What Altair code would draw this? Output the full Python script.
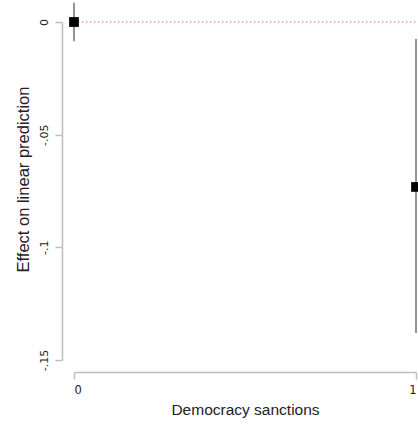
import altair as alt
import pandas as pd

# Marginal effect estimates with 95% confidence bounds
levels = [0, 1]
estimate = [0.0, -0.0732]
ci_low = [-0.0085, -0.138]
ci_high = [0.0085, -0.0075]

y_ticks = [0, -0.05, -0.1, -0.15]

df = pd.DataFrame({"level": levels, "est": estimate, "lo": ci_low, "hi": ci_high})
ref = pd.DataFrame({"y": [0.0]})

W, H = 342, 338

x_scale = alt.Scale(domain=[0, 1], nice=False, zero=False)
y_scale = alt.Scale(domain=[-0.15, 0], nice=False, zero=False)

x_axis = alt.Axis(
    values=levels, title="Democracy sanctions", grid=False, offset=12, format="d",
    domainColor="#bdbdbd", domainWidth=1.5, tickColor="#bdbdbd", tickWidth=1.5,
    tickSize=7, labelFont="DejaVu Sans", labelFontSize=11.5, labelColor="#222",
    labelPadding=5, titleFont="Liberation Sans", titleFontSize=15.5,
    titleFontWeight="normal", titleColor="#222", titlePadding=7,
)
y_axis = alt.Axis(
    values=y_ticks, title="Effect on linear prediction", grid=False, offset=12,
    domainColor="#bdbdbd", domainWidth=1.5, tickColor="#bdbdbd", tickWidth=1.5,
    tickSize=7, labelAngle=270, labelAlign="center", labelBaseline="bottom",
    labelExpr="datum.value == 0 ? '0' : replace(toString(datum.value), '0.', '.')",
    labelFont="DejaVu Sans", labelFontSize=11, labelColor="#222", labelPadding=6,
    titleFont="Liberation Sans", titleFontSize=16.5, titleFontWeight="normal",
    titleColor="#222", titlePadding=7, titleY=157,
)

refline = alt.Chart(ref).mark_rule(
    color="#f4a09a", strokeDash=[1.5, 2.5], strokeWidth=1.5
).encode(
    y=alt.Y("y:Q", scale=y_scale, axis=y_axis),
    x=alt.value(0),
    x2=alt.value(W + 5),
)

bars = alt.Chart(df).mark_rule(color="#7a7a7a", strokeWidth=1.6).encode(
    x=alt.X("level:Q", scale=x_scale, axis=x_axis),
    y=alt.Y("lo:Q", scale=y_scale, axis=y_axis),
    y2="hi:Q",
)

points = alt.Chart(df).mark_point(
    shape="square", filled=True, color="black", size=95, opacity=1
).encode(
    x=alt.X("level:Q", scale=x_scale, axis=x_axis),
    y=alt.Y("est:Q", scale=y_scale, axis=y_axis),
)

chart = alt.layer(refline, bars, points).properties(
    width=W,
    height=H,
    autosize=alt.AutoSizeParams(type="none"),
    padding={"left": 74, "top": 22, "right": 2, "bottom": 64},
).configure(background="white").configure_view(stroke=None, strokeWidth=0)

chart.save("out.html", embed_options={"renderer": "svg", "actions": False})
